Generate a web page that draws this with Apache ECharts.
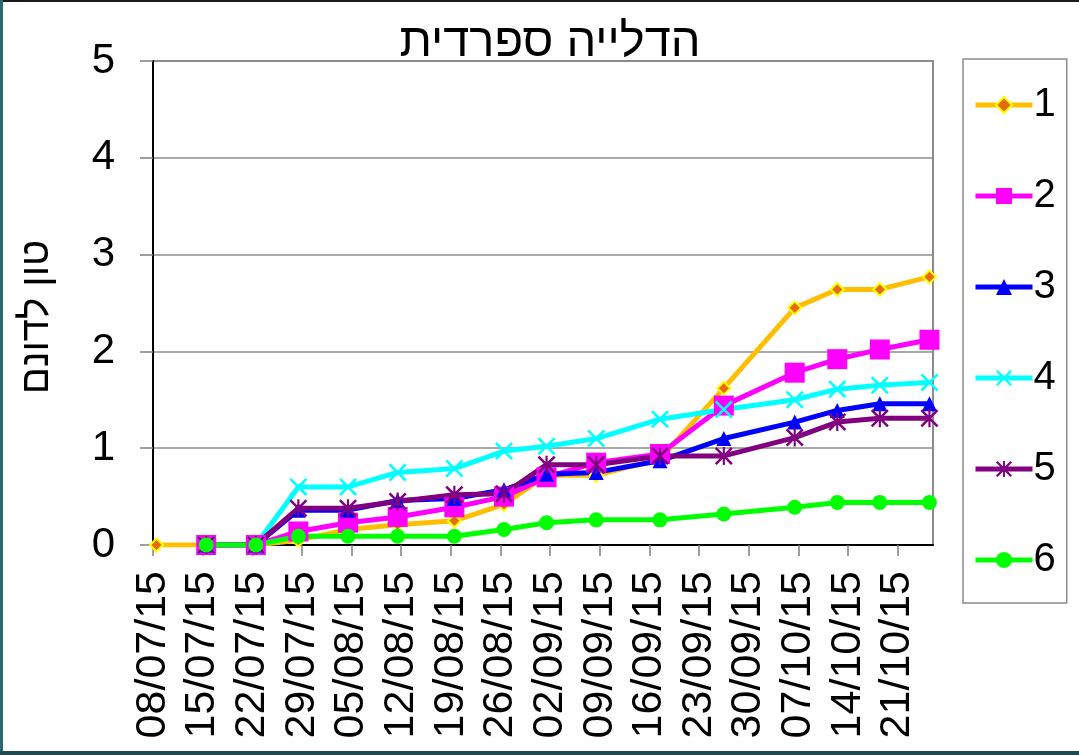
<!DOCTYPE html>
<html>
<head>
<meta charset="utf-8">
<script src="https://cdn.jsdelivr.net/npm/echarts@6/dist/echarts.min.js"></script>
<style>
  html, body { margin: 0; padding: 0; background: #fff; }
  #chart { width: 1079px; height: 755px; }
</style>
</head>
<body>
<div id="chart"></div>
<script>
// ----------------------
// DATA
// ----------------------
const tickLabels = [
  "08/07/15", "15/07/15", "22/07/15", "29/07/15", "05/08/15", "12/08/15",
  "19/08/15", "26/08/15", "02/09/15", "09/09/15", "16/09/15", "23/09/15",
  "30/09/15", "07/10/15", "14/10/15", "21/10/15",
];
const axisEnd = "26/10/15";

const sampleDates = [
  "08/07/15", "15/07/15", "22/07/15", "28/07/15", "04/08/15", "11/08/15",
  "19/08/15", "26/08/15", "01/09/15", "08/09/15", "17/09/15", "26/09/15",
  "06/10/15", "12/10/15", "18/10/15", "25/10/15",
];

const seriesNames = ["1", "2", "3", "4", "5", "6"];

const plot1 = [0, 0, 0, 0.05, 0.16, 0.21, 0.25, 0.42, 0.72, 0.72, 0.89, 1.62, 2.45, 2.64, 2.64, 2.77];
const plot2 = [null, 0, 0, 0.14, 0.23, 0.29, 0.39, 0.5, 0.7, 0.85, 0.94, 1.44, 1.78, 1.92, 2.02, 2.12];
const plot3 = [null, 0, 0, 0.36, 0.36, 0.46, 0.48, 0.57, 0.73, 0.75, 0.87, 1.1, 1.27, 1.39, 1.46, 1.46];
const plot4 = [null, 0, 0, 0.6, 0.6, 0.75, 0.79, 0.97, 1.02, 1.1, 1.3, 1.4, 1.5, 1.61, 1.65, 1.68];
const plot5 = [null, 0, 0, 0.38, 0.38, 0.45, 0.52, 0.53, 0.83, 0.83, 0.92, 0.92, 1.11, 1.27, 1.31, 1.31];
const plot6 = [null, 0, 0, 0.09, 0.09, 0.09, 0.09, 0.16, 0.23, 0.26, 0.26, 0.32, 0.39, 0.44, 0.44, 0.44];

// ----------------------
// HELPERS
// ----------------------
function toDate(s) {
  const [d, m, y] = s.split("/").map(Number);
  return Date.UTC(2000 + y, m - 1, d);
}
const DAY = 86400000;
const start = toDate(tickLabels[0]);
function dayOf(s) {
  return Math.round((toDate(s) - start) / DAY);
}

const tickDays = tickLabels.map(dayOf);
const labelByDay = {};
tickLabels.forEach((t, i) => (labelByDay[tickDays[i]] = t));

// excel date axis puts each day in the middle of its slot
function pairs(values) {
  return values.map((v, i) => [dayOf(sampleDates[i]) + 0.5, v]);
}

const X_MARK = "path://M0,1 L1,0 L5,4 L9,0 L10,1 L6,5 L10,9 L9,10 L5,6 L1,10 L0,9 L4,5 Z";
const STAR_MARK = X_MARK + " M4.4,0 L5.6,0 L5.6,10 L4.4,10 Z";

const FONT = "Liberation Sans, Arial, sans-serif";

const styles = [
  { line: "#FFBF00", fill: "#E46C0A", symbol: "diamond", size: 13, border: "#FFFF00", bw: 2 },
  { line: "#FF00FF", fill: "#FF00FF", symbol: "rect", size: 20 },
  { line: "#0000FF", fill: "#0000FF", symbol: "triangle", size: 15 },
  { line: "#00FFFF", fill: "#00FFFF", symbol: X_MARK, size: 18 },
  { line: "#800080", fill: "#800080", symbol: STAR_MARK, size: 18 },
  { line: "#00FF00", fill: "#00FF00", symbol: "circle", size: 15 },
];

const allValues = [plot1, plot2, plot3, plot4, plot5, plot6];

// ----------------------
// CHART
// ----------------------
const chart = echarts.init(document.getElementById("chart"), null, { renderer: "canvas" });

chart.setOption({
  animation: false,
  backgroundColor: "#fff",
  textStyle: { fontFamily: FONT },
  title: {
    text: "הדלייה ספרדית",
    left: 545,
    top: 15,
    textAlign: "center",
    textStyle: { fontFamily: FONT, fontSize: 47, fontWeight: "normal", color: "#000" },
  },
  grid: {
    left: 153,
    top: 61,
    right: 146,
    bottom: 210,
    show: true,
    borderColor: "#8c8c8c",
    borderWidth: 2,
  },
  legend: {
    orient: "vertical",
    left: 963,
    top: 59,
    padding: [26, 11, 23, 10],
    itemWidth: 57,
    itemHeight: 20,
    itemGap: 51,
    borderColor: "#8c8c8c",
    borderWidth: 1.5,
    lineStyle: { width: 5 },
    textStyle: { fontFamily: FONT, fontSize: 40, color: "#000", padding: [0, 0, 0, -4] },
    data: seriesNames,
  },
  xAxis: {
    type: "value",
    min: 0,
    max: dayOf(axisEnd),
    splitLine: { show: false },
    axisLine: { lineStyle: { color: "#000", width: 2 } },
    axisTick: {
      customValues: tickDays,
      length: 11,
      lineStyle: { color: "#808080", width: 1.5 },
    },
    axisLabel: {
      customValues: tickDays,
      rotate: 90,
      margin: 26,
      fontFamily: FONT,
      fontSize: 43,
      color: "#000",
      formatter: (v) => labelByDay[v] || "",
    },
  },
  yAxis: {
    type: "value",
    min: 0,
    max: 5,
    interval: 1,
    name: "טון לדונם",
    nameLocation: "middle",
    nameRotate: 90,
    nameGap: 96,
    nameTextStyle: { fontFamily: FONT, fontSize: 40, color: "#000", padding: [0, 28, 0, 0] },
    axisLine: { show: true, lineStyle: { color: "#000", width: 2 } },
    axisTick: { show: true, length: 13, lineStyle: { color: "#808080", width: 1.5 } },
    axisLabel: { margin: 38, fontFamily: FONT, fontSize: 42, color: "#000" },
    splitLine: { lineStyle: { color: "#8c8c8c", width: 1.5 } },
  },
  graphic: [
    { type: "rect", shape: { x: 0, y: 0, width: 1079, height: 2 }, style: { fill: "#1b1b1b" }, silent: true },
    { type: "rect", shape: { x: 0, y: 0, width: 3, height: 755 }, style: { fill: "#2c6870" }, silent: true },
    { type: "rect", shape: { x: 0, y: 751, width: 1079, height: 4 }, style: { fill: "#1f4a50" }, silent: true },
  ],
  series: seriesNames.map((name, i) => ({
    name,
    type: "line",
    data: pairs(allValues[i]),
    symbol: styles[i].symbol,
    symbolSize: styles[i].size,
    showSymbol: true,
    lineStyle: { color: styles[i].line, width: 5 },
    itemStyle: {
      color: styles[i].fill,
      borderColor: styles[i].border || styles[i].fill,
      borderWidth: styles[i].bw || 0,
    },
  })),
});
</script>
</body>
</html>
